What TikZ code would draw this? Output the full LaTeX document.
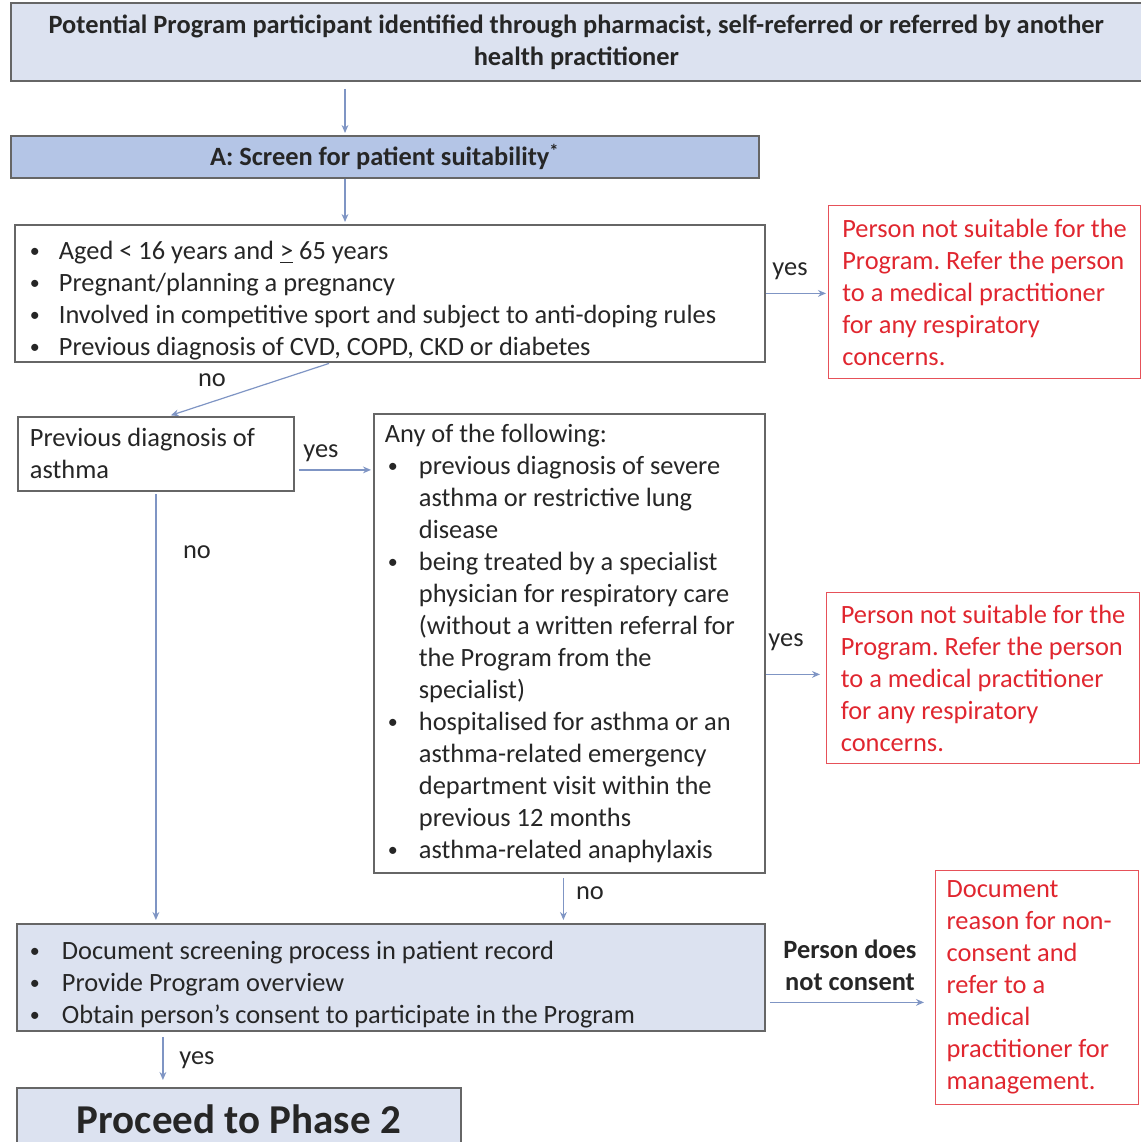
\documentclass[tikz,border=0pt]{standalone}
\usepackage{fontspec}
\setmainfont{Carlito}
\usetikzlibrary{arrows.meta,shadows}
\frenchspacing

\definecolor{hdrblue}{HTML}{DCE2F0}
\definecolor{stepblue}{HTML}{B4C5E6}
\definecolor{linkblue}{HTML}{7F95C4}
\definecolor{warnred}{HTML}{E0262F}
\definecolor{inkgray}{HTML}{262626}

\newcommand{\bfs}{\fontsize{13.2}{16}\selectfont}
\newcommand{\bul}[2][16pt]{\par\hangindent=#1\hangafter=1\noindent
  \makebox[#1][l]{\hspace{1.5pt}\raisebox{0.8pt}{\fontsize{10}{10}\selectfont\textbullet}}#2}

\tikzset{
  box/.style={draw=black!60, line width=0.9pt, fill=white, anchor=north west,
    inner xsep=6pt, inner ysep=0pt, align=flush left, font=\bfs, text=inkgray,
    drop shadow={shadow xshift=0.5pt, shadow yshift=-0.7pt, opacity=0.5}},
  warnbox/.style={draw=warnred!80, line width=0.6pt, anchor=north west,
    inner xsep=6pt, inner ysep=0pt, align=flush left, font=\bfs, text=warnred},
  link/.style={draw=linkblue, line width=0.6pt, -{Stealth[length=4pt,width=3.4pt]}},
  lbl/.style={font=\bfs, text=inkgray, inner sep=0pt},
}

\begin{document}
\begin{tikzpicture}[x=0.5pt, y=-0.5pt]
  \clip (0,0) rectangle (1141,1142);

  % boxes
  \node[box, fill=hdrblue, font=\bfs\bfseries, align=flush center, text width=553.5pt,
    minimum height=39pt] (origin) at (10,2)
    {Potential Program participant identified through pharmacist, self-referred or referred by another\\health practitioner};
  \node[box, fill=stepblue, font=\bfs\bfseries, align=flush center, text width=362pt,
    minimum height=21pt] (screen) at (10,135)
    {A: Screen for patient suitability\textsuperscript{*}};
  \node[box, text width=363pt, minimum height=68.5pt] (crit) at (14,224) {%
    \bul{Aged < 16 years and \underline{>} 65 years}
    \bul{Pregnant/planning a pregnancy}
    \bul{Involved in competitive sport and subject to anti-doping rules}
    \bul{Previous diagnosis of CVD, COPD, CKD or diabetes}};
  \node[warnbox, minimum width=156pt, minimum height=86.5pt] (warn1) at (828,205)
    {Person not suitable for the\\Program. Refer the person\\to a medical practitioner\\for any respiratory\\concerns.};
  \node[box, text width=126pt, minimum height=37pt] (prev) at (17,416)
    {Previous diagnosis of\\asthma};
  \node[box, inner xsep=5.5pt, text width=184.5pt, minimum height=229.5pt] (any) at (373,413) {%
    Any of the following:
    \bul[17pt]{previous diagnosis of severe\newline asthma or restrictive lung\newline disease}
    \bul[17pt]{being treated by a specialist\newline physician for respiratory care\newline (without a written referral for\newline the Program from the\newline specialist)}
    \bul[17pt]{hospitalised for asthma or an\newline asthma-related emergency\newline department visit within the\newline previous 12 months}
    \bul[17pt]{asthma-related anaphylaxis}};
  \node[warnbox, minimum width=156.5pt, minimum height=85.5pt] (warn2) at (826,592)
    {Person not suitable for the\\Program. Refer the person\\to a medical practitioner\\for any respiratory\\concerns.};
  \node[box, fill=hdrblue, inner xsep=5pt, text width=364pt, minimum height=53.5pt] (consent) at (16,923) {%
    \bul[17.5pt]{Document screening process in patient record}
    \bul[17.5pt]{Provide Program overview}
    \bul[17.5pt]{Obtain person’s consent to participate in the Program}};
  \node[warnbox, inner xsep=5.5pt, text width=90.5pt, minimum height=117pt] (warn3) at (935,870)
    {Document\\reason for non-\\consent and\\refer to a\\medical\\practitioner for\\management.};
  \node[box, fill=hdrblue, font=\fontsize{20.5}{24}\selectfont\bfseries, align=flush center,
    text width=210pt, minimum height=31pt] (proceed) at (16,1087) {Proceed to Phase 2};

  % labels
  \node[lbl] (yes1) at (790,271) {yes};
  \node[lbl] (no1) at (212,380) {no};
  \node[lbl] (yes2) at (321,453) {yes};
  \node[lbl] (no2) at (197,552) {no};
  \node[lbl] (yes3) at (786,642) {yes};
  \node[lbl] (no3) at (590,893) {no};
  \node[lbl, font=\bfs\bfseries, align=center] (refuse) at (850,965) {Person does\\not consent};
  \node[lbl] (yes4) at (197,1060) {yes};

  % connectors
  \coordinate (xa) at (345,0);
  \coordinate (xp) at ([xshift=-38pt]proceed.north);
  \draw[link, shorten <=3.5pt, shorten >=1pt] (origin.south -| xa) -- (screen.north -| xa);
  \draw[link, shorten >=1pt] (screen.south -| xa) -- (crit.north -| xa);
  \draw[link, shorten >=1pt] (crit.east) -- (crit.east -| warn1.west);
  \draw[link, shorten <=1pt, shorten >=1pt] ([xshift=-29.5pt]crit.south) -- ([xshift=6.5pt]prev.north);
  \draw[link, shorten <=2pt, shorten >=1pt] ([yshift=-8pt]prev.east) -- ([yshift=-8pt]prev.east -| any.west);
  \draw[link, shorten >=3pt] ([yshift=-15.5pt]any.east) -- ([yshift=-15.5pt]any.east -| warn2.west);
  \draw[link, shorten <=1pt, shorten >=1.5pt] (prev.south) -- (prev.south |- consent.north);
  \draw[link, shorten <=2pt, shorten >=1.5pt] ([xshift=-3pt]any.south) -- ([xshift=-3pt]any.south |- consent.north);
  \draw[link, shorten <=2pt, shorten >=5.5pt] ([yshift=-12.5pt]consent.east) -- ([yshift=-12.5pt]consent.east -| warn3.west);
  \draw[link, shorten <=2.5pt, shorten >=3.5pt] (xp |- consent.south) -- (xp);
\end{tikzpicture}
\end{document}
